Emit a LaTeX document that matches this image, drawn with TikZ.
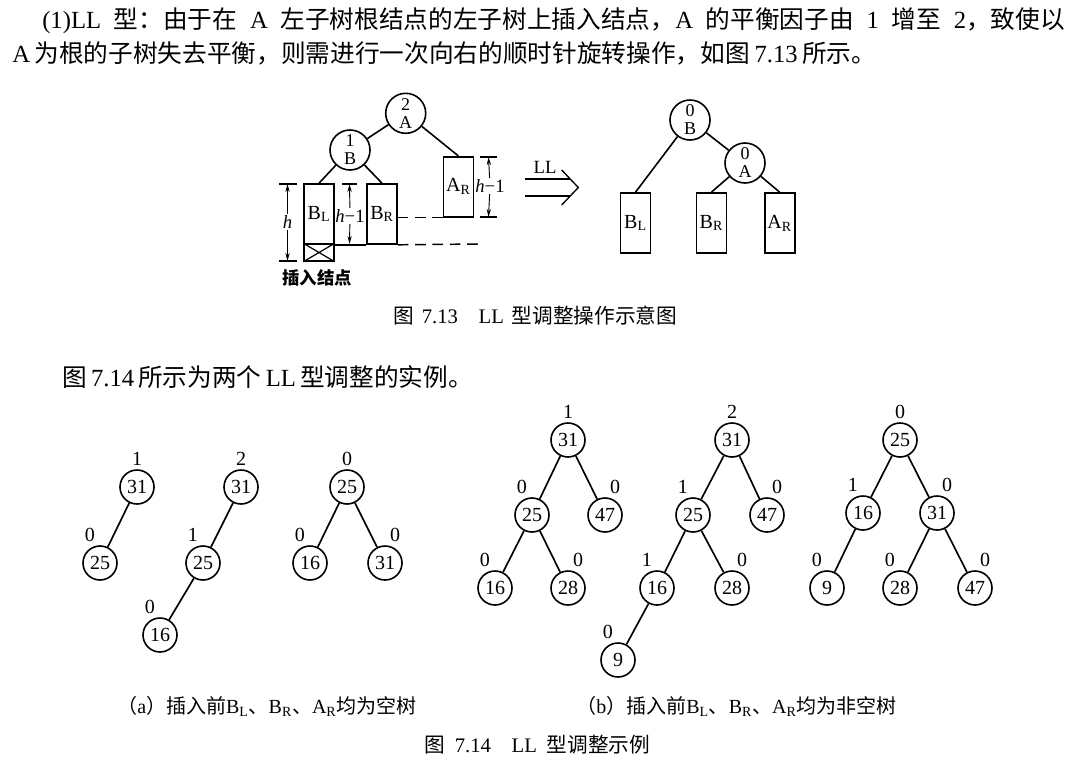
\documentclass[tikz,border=0pt]{standalone}
\usepackage{fontspec}
\setmainfont{Liberation Serif}
\newfontfamily\cjk{Noto Sans CJK SC}
\usepackage{tikz}
\usetikzlibrary{arrows.meta}

\XeTeXlinebreaklocale "zh"
\XeTeXlinebreakskip=0pt plus 4pt minus 1pt

\newcommand\zh[1]{{\cjk #1}}
\newcommand\subt[2]{#1\textsubscript{#2}}

\tikzset{
  avl/.style={draw, circle, line width=1.2pt, minimum size=25.5pt, inner sep=0pt, font=\fontsize{15}{15}\selectfont},
  bal/.style={inner sep=1pt, font=\fontsize{15}{15}\selectfont},
  edge/.style={line width=1.25pt},
  knot/.style={draw, circle, line width=1.2pt, minimum size=30pt, inner sep=0pt, align=center, font=\fontsize{13.5}{13.5}\selectfont},
  subtree/.style={draw, line width=1.2pt, minimum width=22.5pt, minimum height=45pt, inner sep=0pt, font=\fontsize{15}{15}\selectfont},
  dimline/.style={line width=0.7pt, -{Stealth[length=6pt,width=3.2pt]}},
  dimlab/.style={inner sep=1pt, font=\fontsize{14}{14}\selectfont},
  dashline/.style={line width=1.1pt, dash pattern=on 8pt off 5pt},
  txt/.style={inner sep=0pt, anchor=west},
}

\begin{document}
\begin{tikzpicture}[x=0.75pt, y=-0.75pt, label distance=1.5pt]
  \useasboundingbox[fill=white] (0,0) rectangle (1073,765);

  % Paragraph
  \node[txt, font=\fontsize{18.5}{22}\selectfont] (line1) at (42,21)
    {\makebox[767pt][s]{(1)LL \zh{型：由于在} A \zh{左子树根结点的左子树上插入结点，}A \zh{的平衡因子由} 1 \zh{增至} 2\zh{，致使以}}};
  \node[txt, font=\fontsize{18.5}{22}\selectfont] (line2) at (12,53)
    {\makebox[648pt][s]{A \zh{为根的子树失去平衡，则需进行一次向右的顺时针旋转操作，如图} 7.13 \zh{所示。}}};

  % Fig 7.13, before
  \node[knot] (A) at (405.7,113.3) {2\\A};
  \node[knot] (B) at (350,150) {1\\B};
  \node[subtree] (BL) at (319,214) {\subt{B}{L}};
  \node[subtree, minimum height=12.75pt] (X) at (319,252.5) {};
  \node[subtree] (BR) at (382,214) {\subt{B}{R}};
  \node[subtree] (AR) at (458.3,186.7) {\subt{A}{R}};
  \draw[line width=1.2pt] (A) -- (B);
  \draw[line width=1.2pt] (A) -- (AR.north);
  \draw[line width=1.2pt] (B) -- (BL.north);
  \draw[line width=1.2pt] (B) -- (BR.north);
  \draw[line width=0.9pt] (X.north west) -- (X.south east) (X.north east) -- (X.south west);

  % Levels
  \coordinate (lvl) at (478,244);
  \draw[line width=1.2pt] (BL.south east) -- (BR.south west);
  \draw[dashline] (BR.south east) -- (lvl);
  \draw[dashline] (BR.east |- AR.south) -- (AR.south west);

  % Heights
  \coordinate (htop) at (287.5,184);
  \coordinate (hbot) at (287.5,261);
  \node[dimlab] (h) at (287.5,222) {\textit{h}};
  \draw[dimline] (h) -- (htop);
  \draw[dimline] (h) -- (hbot);
  \draw[line width=0.9pt] (htop) +(-9,0) -- +(9,0);
  \draw[line width=0.9pt] (hbot) +(-9,0) -- +(9,0);

  \coordinate (mtop) at (349.5,184);
  \coordinate (mbot) at (349.5,244);
  \node[dimlab] (hm) at (350,216) {\textit{h}−1};
  \draw[dimline] (hm) -- (mtop);
  \draw[dimline] (hm) -- (mbot);
  \draw[line width=0.9pt] (mtop) +(-7.5,0) -- +(7.5,0);

  \coordinate (atop) at (488.5,157);
  \coordinate (abot) at (488.5,217);
  \node[dimlab] (ha) at (490,186) {\textit{h}−1};
  \draw[dimline] (ha) -- (atop);
  \draw[dimline] (ha) -- (abot);
  \draw[line width=0.9pt] (atop) +(-8.5,0) -- +(8.5,0);
  \draw[line width=0.9pt] (abot) +(-8.5,0) -- +(8.5,0);

  \node[font=\cjk\bfseries\fontsize{13}{13}\selectfont] (ins) at (317,278) {插入结点};

  % LL rotation
  \draw[line width=1pt] (525,179) -- (570,179) (525,196) -- (570,196);
  \draw[line width=1pt] (561.7,170) -- (578.3,187.5) -- (561.7,205);
  \node[font=\fontsize{14}{14}\selectfont] (LL) at (545,167) {LL};

  % Fig 7.13, after
  \node[knot] (B2) at (690,120) {0\\B};
  \node[knot] (A2) at (745,163) {0\\A};
  \node[subtree] (BL2) at (635.5,223) {\subt{B}{L}};
  \node[subtree] (BR2) at (711.4,223) {\subt{B}{R}};
  \node[subtree] (AR2) at (779.7,223) {\subt{A}{R}};
  \draw[line width=1.2pt] (B2) -- (BL2.north);
  \draw[line width=1.2pt] (B2) -- (A2);
  \draw[line width=1.2pt] (A2) -- (BR2.north);
  \draw[line width=1.2pt] (A2) -- (AR2.north);

  \node[txt, font=\fontsize{15.5}{18}\selectfont] (cap13) at (393,316)
    {\makebox[213pt][s]{\zh{图} 7.13\quad LL \zh{型调整操作示意图}}};
  \node[txt, font=\fontsize{18.5}{22}\selectfont] (line3) at (62,377)
    {\makebox[306pt][s]{\zh{图} 7.14 \zh{所示为两个} LL \zh{型调整的实例。}}};

  % (a) empty subtrees
  \node[avl, label={[bal]90:1}] (a1r) at (137,487) {31};
  \node[avl, label={[bal]100:0}] (a1l) at (100,563) {25};
  \draw[edge] (a1r) -- (a1l);

  \node[avl, label={[bal]90:2}] (a2r) at (241,487) {31};
  \node[avl, label={[bal]100:1}] (a2l) at (203,563) {25};
  \node[avl, label={[bal]100:0}] (a2ll) at (160,635) {16};
  \draw[edge] (a2r) -- (a2l);
  \draw[edge] (a2l) -- (a2ll);

  \node[avl, label={[bal]90:0}] (a3r) at (347,487) {25};
  \node[avl, label={[bal]100:0}] (a3l) at (310,563) {16};
  \node[avl, label={[bal]80:0}] (a3rr) at (385,563) {31};
  \draw[edge] (a3r) -- (a3l);
  \draw[edge] (a3r) -- (a3rr);

  % (b) non-empty subtrees
  \node[avl, label={[bal]90:1}] (b1r) at (568,440) {31};
  \node[avl, label={[bal]100:0}] (b1l) at (532,515) {25};
  \node[avl, label={[bal]80:0}] (b1rr) at (605,515) {47};
  \node[avl, label={[bal]100:0}] (b1ll) at (495,588) {16};
  \node[avl, label={[bal]80:0}] (b1lr) at (568,588) {28};
  \draw[edge] (b1r) -- (b1l);
  \draw[edge] (b1r) -- (b1rr);
  \draw[edge] (b1l) -- (b1ll);
  \draw[edge] (b1l) -- (b1lr);

  \node[avl, label={[bal]90:2}] (b2r) at (732,440) {31};
  \node[avl, label={[bal]100:1}] (b2l) at (693,515) {25};
  \node[avl, label={[bal]80:0}] (b2rr) at (767,515) {47};
  \node[avl, label={[bal]100:1}] (b2ll) at (657,588) {16};
  \node[avl, label={[bal]80:0}] (b2lr) at (732,588) {28};
  \node[avl, label={[bal]100:0}] (b2lll) at (618,660) {9};
  \draw[edge] (b2r) -- (b2l);
  \draw[edge] (b2r) -- (b2rr);
  \draw[edge] (b2l) -- (b2ll);
  \draw[edge] (b2l) -- (b2lr);
  \draw[edge] (b2ll) -- (b2lll);

  \node[avl, label={[bal]90:0}] (b3r) at (900,440) {25};
  \node[avl, label={[bal]100:1}] (b3l) at (863,513) {16};
  \node[avl, label={[bal]80:0}] (b3rr) at (937,513) {31};
  \node[avl, label={[bal]100:0}] (b3ll) at (827,588) {9};
  \node[avl, label={[bal]100:0}] (b3rl) at (900,588) {28};
  \node[avl, label={[bal]80:0}] (b3rrr) at (975,588) {47};
  \draw[edge] (b3r) -- (b3l);
  \draw[edge] (b3r) -- (b3rr);
  \draw[edge] (b3l) -- (b3ll);
  \draw[edge] (b3rr) -- (b3rl);
  \draw[edge] (b3rr) -- (b3rrr);

  % Captions
  \node[txt, font=\fontsize{15}{18}\selectfont] (capa) at (117,706)
    {\makebox[226.5pt][s]{\zh{（}a\zh{）插入前}\subt{B}{L}\zh{、}\subt{B}{R}\zh{、}\subt{A}{R}\zh{均为空树}}};
  \node[txt, font=\fontsize{15}{18}\selectfont] (capb) at (576,706)
    {\makebox[243pt][s]{\zh{（}b\zh{）插入前}\subt{B}{L}\zh{、}\subt{B}{R}\zh{、}\subt{A}{R}\zh{均为非空树}}};
  \node[txt, font=\fontsize{15.5}{18}\selectfont] (cap14) at (424,745)
    {\makebox[169.5pt][s]{\zh{图} 7.14\quad LL \zh{型调整示例}}};
\end{tikzpicture}
\end{document}
